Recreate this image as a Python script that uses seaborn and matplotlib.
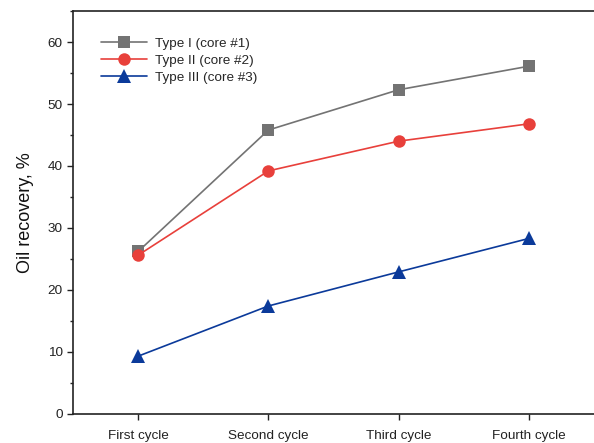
import matplotlib
matplotlib.use("Agg")
import matplotlib.pyplot as plt
import seaborn as sns
import pandas as pd
from matplotlib.ticker import MultipleLocator

cycles = ["First cycle", "Second cycle", "Third cycle", "Fourth cycle"]
type1 = [26.2, 45.8, 52.3, 56.1]
type2 = [25.6, 39.2, 44.0, 46.8]
type3 = [9.3, 17.4, 22.9, 28.3]
series_names = ["Type I (core #1)", "Type II (core #2)", "Type III (core #3)"]

sns.set_theme(style="ticks")
plt.rcParams["font.family"] = ["Liberation Sans", "DejaVu Sans"]

df = pd.DataFrame({
    "cycle": cycles * 3,
    "x": list(range(len(cycles))) * 3,
    "recovery": type1 + type2 + type3,
    "series": [s for s in series_names for _ in cycles],
})

palette = {series_names[0]: "#737373", series_names[1]: "#e8403b", series_names[2]: "#0b3a9a"}
markers = {series_names[0]: "s", series_names[1]: "o", series_names[2]: "^"}
sizes = {series_names[0]: 8, series_names[1]: 9, series_names[2]: 10}

fig, ax = plt.subplots(figsize=(5.94, 4.43), dpi=100)
fig.subplots_adjust(left=0.123, right=1.0, top=0.975, bottom=0.066)

for name in series_names:
    sub = df[df["series"] == name]
    sns.lineplot(data=sub, x="x", y="recovery", ax=ax, color=palette[name],
                 marker=markers[name], markersize=sizes[name], markeredgewidth=0,
                 linewidth=1.2, label=name)

ax.set_xlim(-0.5, 3.5)
ax.set_ylim(0, 65)
ax.set_xticks(range(len(cycles)))
ax.set_xticklabels(cycles)
ax.yaxis.set_major_locator(MultipleLocator(10))
ax.yaxis.set_minor_locator(MultipleLocator(5))
ax.tick_params(axis="both", which="major", labelsize=9.7, length=4, width=1, colors="#222222", labelcolor="#222222")
ax.tick_params(axis="y", which="minor", length=2.5, width=1)
ax.tick_params(axis="x", pad=8)
ax.set_xlabel("")
ax.set_ylabel("Oil recovery, %", fontsize=13, color="#111111", labelpad=10)
for s in ["left", "bottom", "top"]:
    ax.spines[s].set_linewidth(1.2)
    ax.spines[s].set_color("#222222")
ax.spines["right"].set_visible(False)

leg = ax.legend(loc="upper left", bbox_to_anchor=(0.03, 0.965), frameon=False,
                fontsize=9.7, handlelength=3.4, labelspacing=0.35, handletextpad=0.6)

fig.savefig("out.png", dpi=100)
